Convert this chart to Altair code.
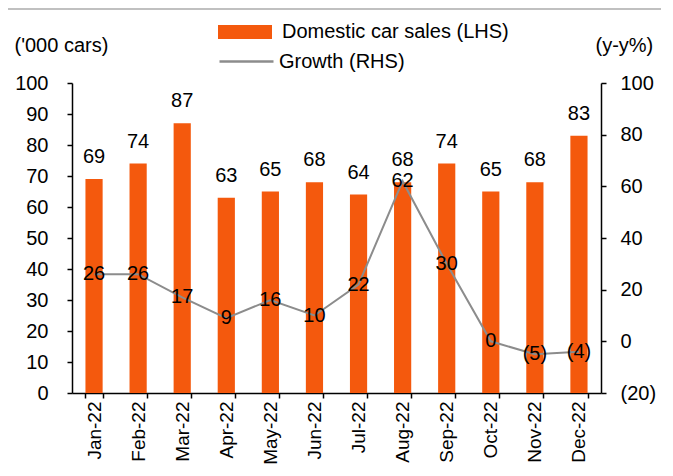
import altair as alt
import pandas as pd

months = ["Jan-22", "Feb-22", "Mar-22", "Apr-22", "May-22", "Jun-22",
          "Jul-22", "Aug-22", "Sep-22", "Oct-22", "Nov-22", "Dec-22"]
sales = [69, 74, 87, 63, 65, 68, 64, 68, 74, 65, 68, 83]
growth = [26, 26, 17, 9, 16, 10, 22, 62, 30, 0, -5, -4]
growth_labels = [f"({abs(g)})" if g < 0 else str(g) for g in growth]

BAR_NAME = "Domestic car sales (LHS)"
LINE_NAME = "Growth (RHS)"

df = pd.DataFrame({
    "month": months,
    "sales": sales,
    "growth": growth,
    "glabel": growth_labels,
    "bar_series": BAR_NAME,
    "line_series": LINE_NAME,
})

FONT = "Liberation Sans"
ORANGE = "#F4590D"
GRAY = "#8C8C8C"
FS = 20

x = alt.X(
    "month:N", sort=months, title=None,
    scale=alt.Scale(paddingInner=0.61, paddingOuter=0.305),
    axis=alt.Axis(labelAngle=-90, tickBand="extent", tickSize=5, labelPadding=3,
                  domainColor="black", tickColor="black", domainWidth=1.5, tickWidth=1.5,
                  labelFontSize=19, labelFont=FONT, labelColor="black"),
)

yL = alt.Y(
    "sales:Q",
    scale=alt.Scale(domain=[0, 100], nice=False),
    axis=alt.Axis(values=list(range(0, 101, 10)), title="('000 cars)", titleAngle=0,
                  titleAlign="left", titleBaseline="middle", titleX=-58, titleY=-38,
                  titleFont=FONT, titleFontSize=FS, titleFontWeight="normal", titleColor="black",
                  tickSize=5, labelPadding=19, domainColor="black", tickColor="black",
                  domainWidth=1.5, tickWidth=1.5, labelFontSize=FS, labelFont=FONT,
                  labelColor="black", grid=False),
)

yR = alt.Y(
    "growth:Q",
    scale=alt.Scale(domain=[-20, 100], nice=False),
    axis=alt.Axis(orient="right", values=list(range(-20, 101, 20)), title="(y-y%)", titleAngle=0,
                  titleAlign="left", titleBaseline="middle", titleX=-6, titleY=-38,
                  titleFont=FONT, titleFontSize=FS, titleFontWeight="normal", titleColor="black",
                  tickSize=5, labelPadding=14, domainColor="black", tickColor="black",
                  domainWidth=1.5, tickWidth=1.5, labelFontSize=FS, labelFont=FONT,
                  labelColor="black", grid=False,
                  labelExpr="datum.value < 0 ? '(' + abs(datum.value) + ')' : datum.label"),
)

base = alt.Chart(df)

bars = base.mark_bar().encode(
    x=x, y=yL,
    fill=alt.Fill("bar_series:N", scale=alt.Scale(domain=[BAR_NAME], range=[ORANGE]),
                  legend=alt.Legend(title=None, orient="none", legendX=146, legendY=-78,
                                    symbolType="M-1,-0.26H1V0.26H-1Z", symbolSize=2916,
                                    symbolStrokeWidth=0, labelFontSize=FS, labelFont=FONT,
                                    labelColor="black", labelOffset=10, labelLimit=0, padding=0)),
)
bar_text = base.mark_text(dy=-22, baseline="middle", fontSize=FS, font=FONT, color="black").encode(
    x=x, y=yL, text="sales:Q"
)
top_rule = base.mark_rule(color="#C0C0C0", strokeWidth=2).encode(
    x=alt.value(-64), x2=alt.value(593), y=alt.value(-74)
)

line = base.mark_line(strokeWidth=2).encode(
    x=x, y=yR,
    stroke=alt.Stroke("line_series:N", scale=alt.Scale(domain=[LINE_NAME], range=[GRAY]),
                      legend=alt.Legend(title=None, orient="none", legendX=146, legendY=-50,
                                        symbolType="stroke", symbolSize=2916, symbolStrokeWidth=2.5,
                                        labelFontSize=FS, labelFont=FONT, labelColor="black",
                                        labelOffset=4, labelLimit=0, padding=0)),
)
line_text = base.mark_text(baseline="middle", fontSize=FS, font=FONT, color="black").encode(
    x=x, y=yR, text="glabel:N"
)

left = alt.layer(bars, bar_text, top_rule)
right = alt.layer(line, line_text)

chart = alt.layer(left, right).resolve_scale(y="independent").properties(
    width=529, height=310,
    padding={"left": 64, "top": 75, "right": 60, "bottom": 75},
    autosize=alt.AutoSizeParams(type="none"),
).configure_view(stroke=None).configure_axis(grid=False)

chart.save("out.html", embed_options={"renderer": "svg", "actions": False})
